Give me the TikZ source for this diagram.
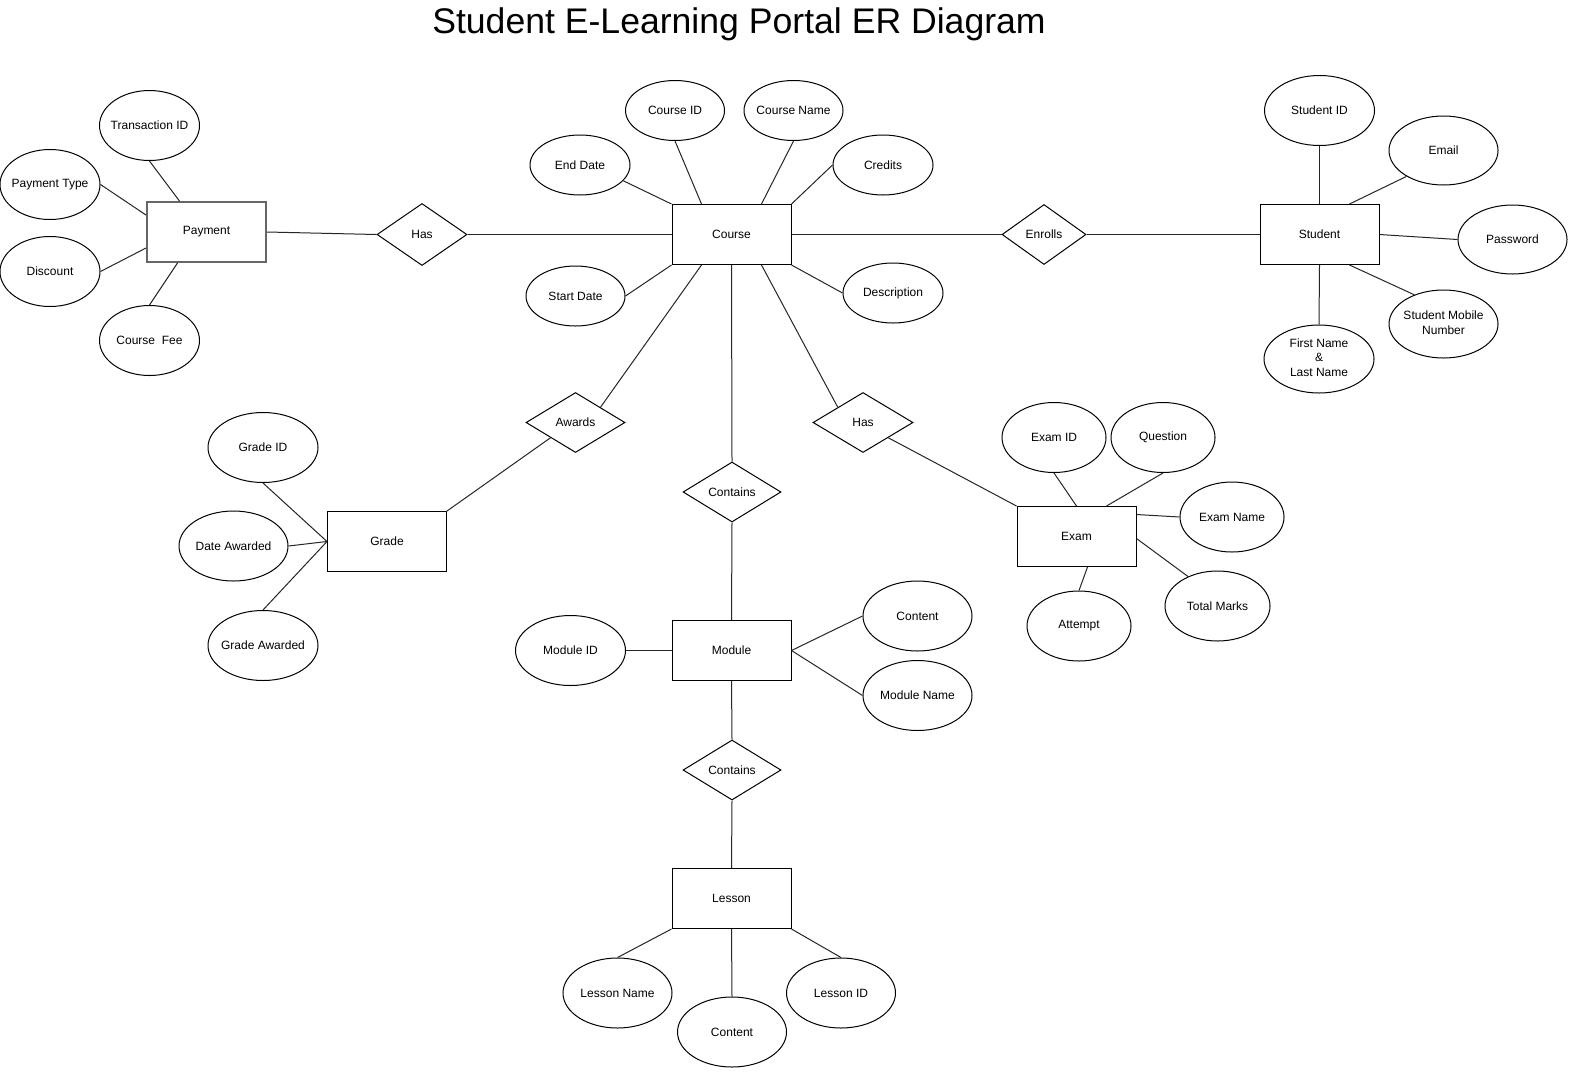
\documentclass[tikz,border=0pt]{standalone}
\usepackage{fontspec}
\setmainfont{Liberation Sans}
\usetikzlibrary{shapes.geometric}
\newcommand\attrtext[1]{\makebox[0pt][c]{#1}}
\newcommand\attrtwo[1]{\makebox[0pt][c]{\begin{tabular}{@{}c@{}}#1\end{tabular}}}
\begin{document}
\begin{tikzpicture}[x=1pt,y=-1pt,
  every node/.style={font=\fontsize{12}{14.5}\selectfont, text=black},
  ent/.style={draw=black, line width=1pt, rectangle, minimum width=119pt, minimum height=60pt, inner sep=0pt},
  payent/.style={ent, draw=black!60, line width=2pt},
  rel/.style={draw=black, line width=1pt, diamond, aspect=2, inner sep=0pt, minimum width=#1, minimum height=60pt},
  attr/.style 2 args={draw=black, line width=1pt, ellipse, inner sep=0pt, minimum width=#1, minimum height=#2},
  conn/.style={draw=black!85, line width=1pt}]
\useasboundingbox[fill=white] (0,0) rectangle (1581,1077);

% title
\node[font=\fontsize{35.6}{40}\selectfont, anchor=base] (title) at (739,33.5) {Student E-Learning Portal ER Diagram};

% entities
\node[payent] (pay) at (206.5,232) {Payment};
\node[ent] (crs) at (731.5,234.5) {Course};
\node[ent] (stu) at (1319.5,234.5) {Student};
\node[ent] (grd) at (387,541.5) {Grade};
\node[ent] (exm) at (1076.5,536.5) {Exam};
\node[ent] (mod) at (731.5,650.5) {Module};
\node[ent] (les) at (731.5,898.5) {Lesson};

% relationships
\node[rel=90pt, minimum height=62pt] (has1) at (422,234.5) {Has};
\node[rel=84pt] (enr) at (1044,234.5) {Enrolls};
\node[rel=99pt] (awd) at (575.5,422.5) {Awards};
\node[rel=100pt] (has2) at (863,422.5) {Has};
\node[rel=98pt] (con1) at (732,492) {Contains};
\node[rel=98pt] (con2) at (732,770) {Contains};

% payment attributes
\node[attr={100pt}{70pt}] (tid) at (149.5,125.5) {\attrtext{Transaction ID}};
\node[attr={100pt}{70pt}] (ptype) at (50,184.5) {\attrtext{Payment Type}};
\node[attr={100pt}{70pt}] (disc) at (50,271.5) {\attrtext{Discount}};
\node[attr={100pt}{70pt}] (fee) at (149.5,340.5) {\attrtext{Course\ \ Fee}};

% course attributes
\node[attr={99pt}{60pt}] (cid) at (675,110.5) {\attrtext{Course ID}};
\node[attr={99pt}{60pt}] (cname) at (793.5,110.5) {\attrtext{Course Name}};
\node[attr={100pt}{60pt}] (edate) at (580,165) {\attrtext{End Date}};
\node[attr={100pt}{60pt}] (cred) at (883,165) {\attrtext{Credits}};
\node[attr={99pt}{60pt}] (sdate) at (575.5,296) {\attrtext{Start Date}};
\node[attr={100pt}{60pt}] (desc) at (893,293) {\attrtext{Description}};

% student attributes
\node[attr={110pt}{70pt}] (sid) at (1319.5,110.5) {\attrtext{Student ID}};
\node[attr={109pt}{69pt}] (email) at (1443.5,150.5) {\attrtext{Email}};
\node[attr={109pt}{69pt}] (pwd) at (1512.5,239.5) {\attrtext{Password}};
\node[attr={109pt}{68pt}] (mob) at (1443.5,324) {\attrtwo{Student Mobile\\Number}};
\node[attr={110pt}{68pt}] (fname) at (1319,359) {\attrtwo{First Name\\\&\\Last Name}};

% grade attributes
\node[attr={110pt}{70pt}] (gid) at (263,447.5) {\attrtext{Grade ID}};
\node[attr={109pt}{70pt}] (dawd) at (233.5,546) {\attrtext{Date Awarded}};
\node[attr={110pt}{70pt}] (gawd) at (263,645.5) {\attrtext{Grade Awarded}};

% exam attributes
\node[attr={104pt}{70pt}] (eid) at (1054,437.5) {\attrtext{Exam ID}};
\node[attr={104pt}{70pt}] (qst) at (1163,437.5) {\attrtext{Question}};
\node[attr={104pt}{70pt}] (ename) at (1232,517) {\attrtext{Exam Name}};
\node[attr={105pt}{70pt}] (tm) at (1217.5,606) {\attrtext{Total Marks}};
\node[attr={104pt}{70pt}] (att) at (1079,626) {\attrtext{Attempt}};

% module attributes
\node[attr={110pt}{70pt}] (mid) at (570.5,650.5) {\attrtext{Module ID}};
\node[attr={109pt}{70pt}] (mcont) at (917.5,616) {\attrtext{Content}};
\node[attr={109pt}{70pt}] (mname) at (917.5,695.5) {\attrtext{Module Name}};

% lesson attributes
\node[attr={109pt}{70pt}] (lname) at (617.5,993) {\attrtext{Lesson Name}};
\node[attr={109pt}{70pt}] (lcont) at (732,1032) {\attrtext{Content}};
\node[attr={109pt}{70pt}] (lid) at (841,993) {\attrtext{Lesson ID}};

% connectors: payment
\draw[conn] (tid.south) -- ([xshift=-27pt]pay.north);
\draw[conn] (ptype.east) -- ([yshift=17pt]pay.west);
\draw[conn] (disc.east) -- ([yshift=-16pt]pay.west);
\draw[conn] (fee.north) -- ([xshift=-29pt]pay.south);
\draw[conn] (pay.east) -- (has1.west);
\draw[conn] (has1.east) -- (crs.west);

% course
\draw[conn] (cid.south) -- ([xshift=-30pt]crs.north);
\draw[conn] (cname.south) -- ([xshift=30pt]crs.north);
\draw[conn] (edate.-20) -- (crs.north west);
\draw[conn] (cred.west) -- (crs.north east);
\draw[conn] (sdate.east) -- (crs.south west);
\draw[conn] (desc.west) -- (crs.south east);
\draw[conn] (crs.east) -- (enr.west);
\draw[conn] (enr.east) -- (stu.west);
\draw[conn] ([xshift=-30pt]crs.south) -- (awd.north east);
\draw[conn] ([xshift=30pt]crs.south) -- (has2.north west);
\draw[conn] (crs.south) -- (con1.north);
\draw[conn] (awd.south west) -- (grd.north east);
\draw[conn] (has2.south east) -- (exm.north west);
\draw[conn] (con1.south) -- (mod.north);
\draw[conn] (mod.south) -- (con2.north);
\draw[conn] (con2.south) -- (les.north);

% student
\draw[conn] (sid.south) -- (stu.north);
\draw[conn] (email.-145) -- ([xshift=30pt]stu.north);
\draw[conn] (pwd.west) -- (stu.east);
\draw[conn] (mob.135) -- ([xshift=30pt]stu.south);
\draw[conn] (fname.north) -- (stu.south);

% grade
\draw[conn] (gid.south) -- (grd.west);
\draw[conn] (dawd.east) -- (grd.west);
\draw[conn] (gawd.north) -- (grd.west);

% exam
\draw[conn] (eid.south) -- (exm.north);
\draw[conn] (qst.south) -- ([xshift=30pt]exm.north);
\draw[conn] (ename.west) -- ([yshift=22pt]exm.east);
\draw[conn] (tm.135) -- ([yshift=-2pt]exm.east);
\draw[conn] (att.north) -- ([xshift=11pt]exm.south);

% module
\draw[conn] (mid.east) -- (mod.west);
\draw[conn] (mcont.west) -- (mod.east);
\draw[conn] (mname.west) -- (mod.east);

% lesson
\draw[conn] (lname.north) -- (les.south west);
\draw[conn] (lcont.north) -- (les.south);
\draw[conn] (lid.north) -- (les.south east);
\end{tikzpicture}
\end{document}
